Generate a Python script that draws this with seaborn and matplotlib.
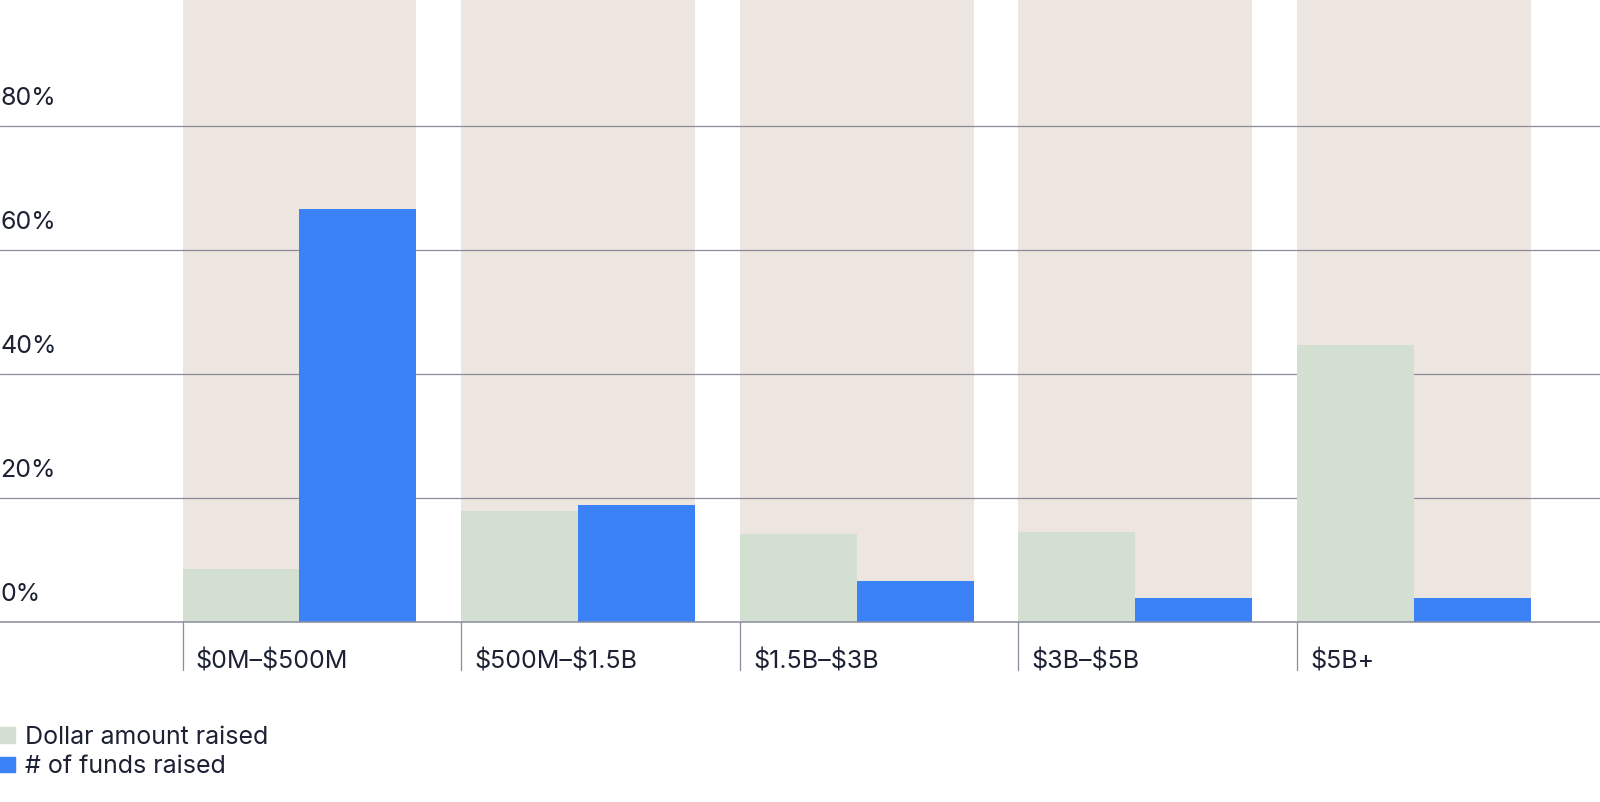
import matplotlib
matplotlib.use('Agg')
import matplotlib.pyplot as plt
from matplotlib.patches import Patch
import seaborn as sns
import pandas as pd

categories = ['$0M–$500M', '$500M–$1.5B', '$1.5B–$3B', '$3B–$5B', '$5B+']
dollar_amount = [8.5, 17.9, 14.2, 14.5, 44.7]
num_funds = [66.6, 18.9, 6.6, 3.9, 3.9]
series = ['Dollar amount raised', '# of funds raised']
y_ticks = [0, 20, 40, 60, 80]
band_top = 100.3

GREEN = '#d3dfd0'
BLUE = '#3b82f6'
BAND = '#ede5df'
TEXT = '#1c2133'
GRID = '#8a8c9c'

sns.set_style('white')
plt.rcParams['font.family'] = ['Inter', 'DejaVu Sans']
plt.rcParams['text.parse_math'] = False

df = pd.DataFrame({
    'category': categories * 2,
    'value': dollar_amount + num_funds,
    'series': [series[0]] * 5 + [series[1]] * 5,
})

fig = plt.figure(figsize=(16, 8.02), dpi=100)
ax = fig.add_axes([0, 180 / 802, 1, 622 / 802])

w = 229 / 273
ax.bar(range(len(categories)), [band_top] * len(categories), width=w, color=BAND,
       linewidth=0, zorder=0)
for y in y_ticks[1:]:
    ax.axhline(y, color=GRID, lw=0.9, zorder=1)
sns.barplot(data=df, x='category', y='value', hue='series', palette=[GREEN, BLUE],
            width=w, dodge=True, gap=0, saturation=1, legend=False, ax=ax,
            linewidth=0, edgecolor='none', zorder=2)
ax.axhline(0, color=GRID, lw=1.1, zorder=5, clip_on=False)

ax.set_xlim(-1.075, 4.668)
ax.set_ylim(0, band_top)
ax.axis('off')

for y in y_ticks:
    ax.text(-1.075, y + 2.6, f'{y}%', fontsize=18, color=TEXT, ha='left', va='bottom')
for i, c in enumerate(categories):
    x0 = i - w / 2
    ax.plot([x0, x0], [0, -7.7], color=GRID, lw=0.9, clip_on=False)
    ax.text(x0 + 13 / 273, -6.3, c, fontsize=18, color=TEXT, ha='left', va='center')

handles = [Patch(color=GREEN, label=series[0]), Patch(color=BLUE, label=series[1])]
fig.legend(handles=handles, loc='upper left', bbox_to_anchor=(0.0, 1 - 726 / 802),
           frameon=False, fontsize=18, handlelength=0.6, handleheight=0.6,
           handletextpad=0.4, borderpad=0, borderaxespad=0, labelspacing=0.25,
           labelcolor=TEXT)

fig.savefig('out.png', dpi=100)
